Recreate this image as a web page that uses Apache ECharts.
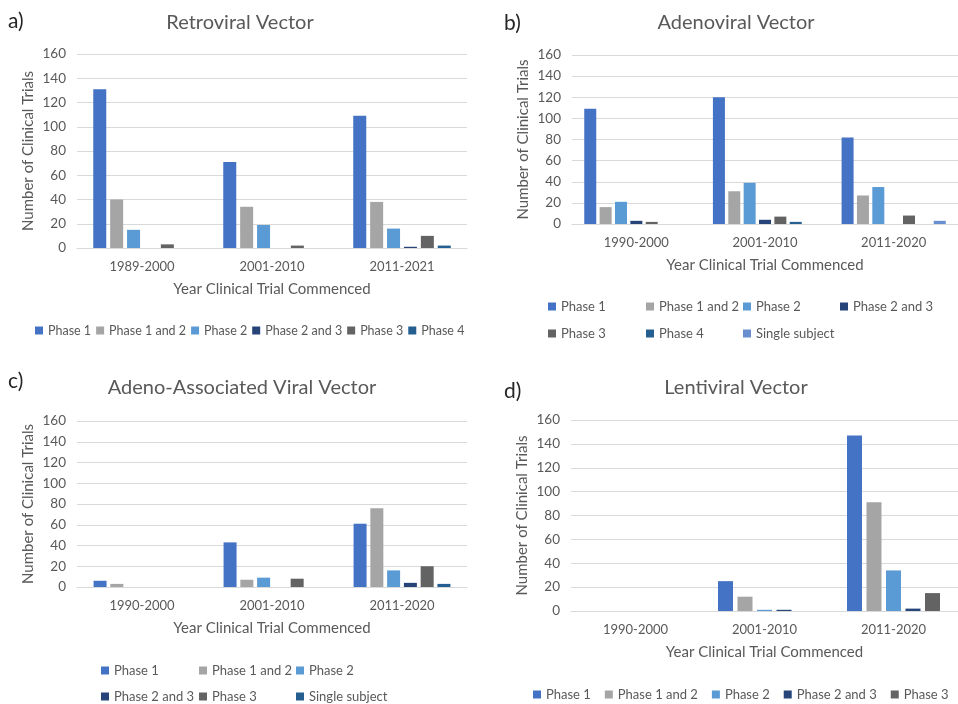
<!DOCTYPE html>
<html>
<head>
<meta charset="utf-8">
<script src="https://cdn.jsdelivr.net/npm/echarts@6/dist/echarts.min.js"></script>
<style>
  html, body { margin: 0; padding: 0; background: #ffffff; }
  #wrap { position: relative; width: 958px; height: 704px; overflow: hidden; }
  .pane { position: absolute; width: 479px; height: 352px; }
</style>
</head>
<body>
<div id="wrap">
  <div class="pane" id="pa" style="left:0;top:0"></div>
  <div class="pane" id="pb" style="left:479px;top:0"></div>
  <div class="pane" id="pc" style="left:0;top:352px"></div>
  <div class="pane" id="pd" style="left:479px;top:352px"></div>
</div>
<script>
// ---------- DATA ----------
const yTickMin = 0, yTickMax = 160, yTickStep = 20;

// a) Retroviral Vector
const retroTitle = 'Retroviral Vector';
const retroCategories = ['1989-2000', '2001-2010', '2011-2021'];
const retroSeriesNames = ['Phase 1', 'Phase 1 and 2', 'Phase 2', 'Phase 2 and 3', 'Phase 3', 'Phase 4'];
const retroPhase1 = [131, 71, 109];
const retroPhase1and2 = [40, 34, 38];
const retroPhase2 = [15, 19, 16];
const retroPhase2and3 = [0, 0, 1];
const retroPhase3 = [3, 2, 10];
const retroPhase4 = [0, 0, 2];

// b) Adenoviral Vector
const adenoTitle = 'Adenoviral Vector';
const adenoCategories = ['1990-2000', '2001-2010', '2011-2020'];
const adenoSeriesNames = ['Phase 1', 'Phase 1 and 2', 'Phase 2', 'Phase 2 and 3', 'Phase 3', 'Phase 4', 'Single subject'];
const adenoPhase1 = [109, 120, 82];
const adenoPhase1and2 = [16, 31, 27];
const adenoPhase2 = [21, 39, 35];
const adenoPhase2and3 = [3, 4, 0];
const adenoPhase3 = [2, 7, 8];
const adenoPhase4 = [0, 2, 0];
const adenoSingle = [0, 0, 3];

// c) Adeno-Associated Viral Vector
const aavTitle = 'Adeno-Associated Viral Vector';
const aavCategories = ['1990-2000', '2001-2010', '2011-2020'];
const aavSeriesNames = ['Phase 1', 'Phase 1 and 2', 'Phase 2', 'Phase 2 and 3', 'Phase 3', 'Single subject'];
const aavPhase1 = [6, 43, 61];
const aavPhase1and2 = [3, 7, 76];
const aavPhase2 = [0, 9, 16];
const aavPhase2and3 = [0, 0, 4];
const aavPhase3 = [0, 8, 20];
const aavSingle = [0, 0, 3];

// d) Lentiviral Vector
const lentiTitle = 'Lentiviral Vector';
const lentiCategories = ['1990-2000', '2001-2010', '2011-2020'];
const lentiSeriesNames = ['Phase 1', 'Phase 1 and 2', 'Phase 2', 'Phase 2 and 3', 'Phase 3'];
const lentiPhase1 = [0, 25, 147];
const lentiPhase1and2 = [0, 12, 91];
const lentiPhase2 = [0, 1, 34];
const lentiPhase2and3 = [0, 1, 2];
const lentiPhase3 = [0, 0, 15];

const yAxisName = 'Number of Clinical Trials';
const xAxisName = 'Year Clinical Trial Commenced';

// ---------- STYLE ----------
const FONT = 'Lato, "Open Sans", sans-serif';
const TXT = '#595959';
const GRID = '#D9D9D9';
const pal = {
  p1: '#4472C4', p12: '#A5A5A5', p2: '#5B9BD5', p23: '#264478',
  p3: '#636363', p4: '#255E91', single7: '#698ED0', single6: '#255E91'
};

function legendBase(extra) {
  return Object.assign({
    orient: 'horizontal',
    itemWidth: 8,
    itemHeight: 8,
    icon: 'rect',
    padding: 0,
    selectedMode: false,
    textStyle: { color: TXT, fontSize: 13, fontFamily: FONT }
  }, extra);
}

function makePanel(elId, cfg) {
  const chart = echarts.init(document.getElementById(elId), null, { renderer: 'canvas' });
  const series = cfg.series.map((s, i) => ({
    type: 'bar',
    name: cfg.names[i],
    data: s,
    barWidth: cfg.barWidth,
    barGap: cfg.barGap,
    itemStyle: { color: cfg.colors[i] },
    animation: false
  }));
  chart.setOption({
    backgroundColor: '#ffffff',
    animation: false,
    textStyle: { fontFamily: FONT },
    graphic: [
      { type: 'text', left: cfg.letterPos[0], top: cfg.letterPos[1],
        style: { text: cfg.letter, fill: '#262626', font: '21px ' + FONT } },
      { type: 'text', x: cfg.titlePos[0], y: cfg.titlePos[1],
        style: { text: cfg.title, fill: TXT, font: '20px ' + FONT, align: 'center', verticalAlign: 'middle' } }
    ],
    legend: cfg.legends.map(legendBase),
    grid: { left: cfg.grid[0], top: cfg.grid[1], right: cfg.grid[2], bottom: cfg.grid[3], containLabel: false },
    xAxis: {
      type: 'category',
      data: cfg.categories,
      axisTick: { show: false },
      axisLine: { lineStyle: { color: GRID, width: 1 } },
      axisLabel: { color: TXT, fontSize: 13, fontFamily: FONT, margin: 12 },
      name: xAxisName,
      nameLocation: 'middle',
      nameGap: 34,
      nameMoveOverlap: false,
      nameTextStyle: { color: TXT, fontSize: 15, fontFamily: FONT }
    },
    yAxis: {
      type: 'value',
      min: yTickMin, max: yTickMax, interval: yTickStep,
      axisLine: { show: false },
      axisTick: { show: false },
      splitLine: { lineStyle: { color: GRID, width: 1 } },
      axisLabel: { color: TXT, fontSize: 13.5, fontFamily: FONT, margin: 11 },
      name: yAxisName,
      nameLocation: 'middle',
      nameGap: cfg.yNameGap,
      nameMoveOverlap: false,
      nameTextStyle: { color: TXT, fontSize: 15, fontFamily: FONT }
    },
    series: series
  });
  return chart;
}

makePanel('pa', {
  letter: 'a)', letterPos: [8, 11], title: retroTitle, titlePos: [240, 23],
  categories: retroCategories, names: retroSeriesNames,
  series: [retroPhase1, retroPhase1and2, retroPhase2, retroPhase2and3, retroPhase3, retroPhase4],
  colors: [pal.p1, pal.p12, pal.p2, pal.p23, pal.p3, pal.p4],
  barWidth: 13, barGap: '30%',
  grid: [77, 54, 12, 104], yNameGap: 41,
  legends: [{ data: retroSeriesNames, left: 35, top: 324, width: 444, itemGap: 5,
              textStyle: { color: TXT, fontSize: 12.5, fontFamily: FONT } }]
});

const colB = [69, 167, 264, 361];
const rowB = [300, 327];
makePanel('pb', {
  letter: 'b)', letterPos: [25, 13], title: adenoTitle, titlePos: [257, 23],
  categories: adenoCategories, names: adenoSeriesNames,
  series: [adenoPhase1, adenoPhase1and2, adenoPhase2, adenoPhase2and3, adenoPhase3, adenoPhase4, adenoSingle],
  colors: [pal.p1, pal.p12, pal.p2, pal.p23, pal.p3, pal.p4, pal.single7],
  barWidth: 12, barGap: '28%',
  grid: [93, 55, -8, 128], yNameGap: 41,
  legends: adenoSeriesNames.map((n, i) => ({ data: [n], left: colB[i % 4], top: rowB[Math.floor(i / 4)] }))
});

const colC = [101, 199, 296];
const rowC = [312, 338];
makePanel('pc', {
  letter: 'c)', letterPos: [8, 19], title: aavTitle, titlePos: [242, 36],
  categories: aavCategories, names: aavSeriesNames,
  series: [aavPhase1, aavPhase1and2, aavPhase2, aavPhase2and3, aavPhase3, aavSingle],
  colors: [pal.p1, pal.p12, pal.p2, pal.p23, pal.p3, pal.single6],
  barWidth: 13, barGap: '29%',
  grid: [77, 69, 12, 117], yNameGap: 41,
  legends: aavSeriesNames.map((n, i) => ({ data: [n], left: colC[i % 3], top: rowC[Math.floor(i / 3)] }))
});

makePanel('pd', {
  letter: 'd)', letterPos: [25, 29], title: lentiTitle, titlePos: [257, 36],
  categories: lentiCategories, names: lentiSeriesNames,
  series: [lentiPhase1, lentiPhase1and2, lentiPhase2, lentiPhase2and3, lentiPhase3],
  colors: [pal.p1, pal.p12, pal.p2, pal.p23, pal.p3],
  barWidth: 15, barGap: '30%',
  grid: [92, 68, -5, 93], yNameGap: 41,
  legends: [{ data: lentiSeriesNames, left: 54, top: 336, itemGap: 14 }]
});
</script>
</body>
</html>
